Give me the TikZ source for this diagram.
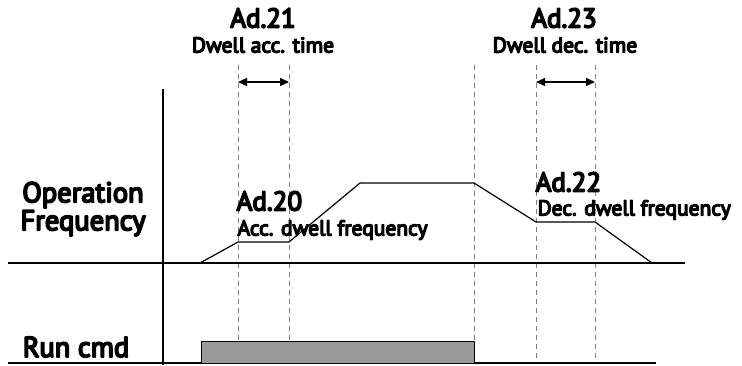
\documentclass[tikz,border=0pt]{standalone}
\usepackage{fontspec}
\setmainfont{PT Sans}
\newfontfamily\semib{PT Sans}[FakeBold=6]
\usetikzlibrary{arrows.meta,positioning}
\tikzset{
  dwell/.style={gray, dashed, line width=.8pt, dash pattern=on 5pt off 4pt},
  lbl/.style={inner sep=0pt, font=\semib\fontsize{21.5}{22}\selectfont},
  bigl/.style={inner sep=0pt, font=\semib\fontsize{27}{27}\selectfont},
  axl/.style={inner sep=0pt, font=\semib\fontsize{28.5}{29}\selectfont},
}
\begin{document}
\begin{tikzpicture}[>={Triangle[length=9pt,width=8pt]}, line join=round, x=1pt, y=-1pt, line width=1.2pt]
        \useasboundingbox (0,0) rectangle (742,365);
        \def\yb{263} \def\ya{242} \def\yt{183} \def\yd{222}
        % dwell times
        \foreach \n/\x in {a/238,b/289,c/474,d/536,e/595}{
            \coordinate (t\n) at (\x,65);
            \coordinate (b\n) at (\x,363);
            \draw[dwell] (t\n)--(b\n);
        }
        % axes
        \draw (8,\yb) coordinate (fl)--(685,\yb) coordinate (fr);
        \draw (8,363) coordinate (rl)--(656,363) coordinate (rr);
        \draw (163,89) coordinate (vt)--(163,365) coordinate (vb);
        % output frequency
        \draw (200,\yb) coordinate (p0)--(238,\ya) coordinate (p1)--(289,\ya) coordinate (p2)
            --(360,\yt) coordinate (p3)--(474,\yt) coordinate (p4)--(536,\yd) coordinate (p5)
            --(595,\yd) coordinate (p6)--(652,\yb) coordinate (p7);
        % run command
        \draw[fill=black!40, line width=1pt] (201,363) coordinate (r0) rectangle (474,341) coordinate (r1);
        % time arrows
        \draw[<->] ([yshift=-17pt]ta)--([yshift=-17pt]tb);
        \draw[<->] ([yshift=-17pt]td)--([yshift=-17pt]te);
        % labels
        \node[bigl] (ad21) at (263,18) {Ad.21};
        \node[lbl] (acct) at (263,45) {Dwell acc. time};
        \node[bigl] (ad23) at (564,18) {Ad.23};
        \node[lbl] (dect) at (565,45) {Dwell dec. time};
        \node[bigl, anchor=west] (ad20) at (236,201) {Ad.20};
        \node[lbl, anchor=west] (accf) at (237,230) {Acc. dwell frequency};
        \node[bigl, anchor=west] (ad22) at (535,182) {Ad.22};
        \node[lbl, anchor=west] (decf) at (537,210) {Dec. dwell frequency};
        \node[axl, align=center] (opf) at (83,209) {Operation\\[-1pt]Frequency};
        \node[axl] (run) at (76,347) {Run cmd};
    \end{tikzpicture}
\end{document}
